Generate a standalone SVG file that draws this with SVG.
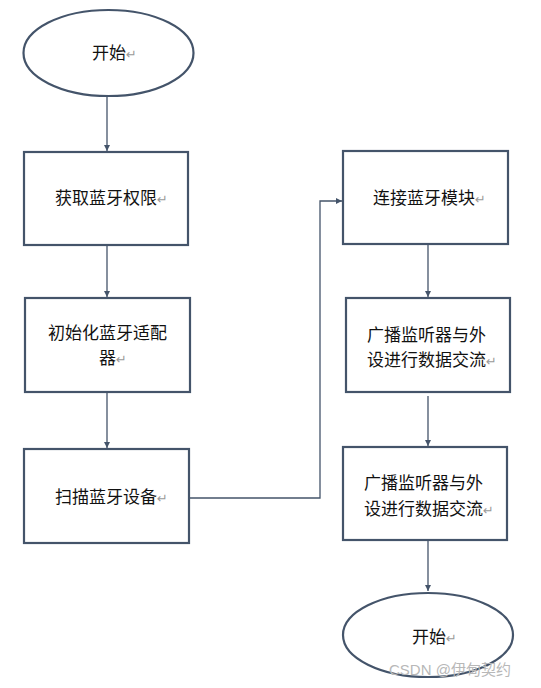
<svg xmlns="http://www.w3.org/2000/svg" width="541" height="688" viewBox="0 0 541 688">
<style>
.shape{fill:#fff;stroke:#44546A;stroke-width:2.2}
.line{fill:none;stroke:#44546A;stroke-width:1.3}
.t{font-family:"Noto Sans CJK SC","Noto Sans",sans-serif;font-size:17px;fill:#111}
.r{fill:#9a9a9a;font-family:"DejaVu Sans",sans-serif;font-size:13px}
.wm{font-family:"Liberation Sans","Noto Sans CJK SC",sans-serif;font-size:15px;fill:#b8b8b8}
</style>
<defs>
<marker id="ah" viewBox="0 0 10 10" refX="10" refY="5" markerWidth="6" markerHeight="7" markerUnits="userSpaceOnUse" orient="auto">
<path d="M0,0 L10,5 L0,10 z" fill="#44546A"/>
</marker>
</defs>
<rect width="541" height="688" fill="#fff"/>
<g id="connectors">
<line class="line" x1="107" y1="96" x2="107" y2="151" marker-end="url(#ah)"/>
<line class="line" x1="107" y1="246" x2="107" y2="297" marker-end="url(#ah)"/>
<line class="line" x1="107" y1="393" x2="107" y2="448" marker-end="url(#ah)"/>
<polyline class="line" points="190,498 320,498 320,201 342,201" marker-end="url(#ah)"/>
<line class="line" x1="428" y1="245" x2="428" y2="297" marker-end="url(#ah)"/>
<line class="line" x1="428" y1="396" x2="428" y2="446" marker-end="url(#ah)"/>
<line class="line" x1="428" y1="541" x2="428" y2="591" marker-end="url(#ah)"/>
</g>
<g id="start">
<ellipse class="shape" cx="108.5" cy="53" rx="85" ry="43"/>
<text class="t" x="92" y="59">开始<tspan class="r">↵</tspan></text>
</g>
<g id="n1">
<rect class="shape" x="24" y="152" width="164" height="93"/>
<text class="t" x="55" y="204">获取蓝牙权限<tspan class="r">↵</tspan></text>
</g>
<g id="n2">
<rect class="shape" x="25" y="298" width="165" height="94"/>
<text class="t" x="48" y="339">初始化蓝牙适配</text>
<text class="t" x="99" y="364">器<tspan class="r">↵</tspan></text>
</g>
<g id="n3">
<rect class="shape" x="24" y="449" width="165" height="94"/>
<text class="t" x="55" y="503">扫描蓝牙设备<tspan class="r">↵</tspan></text>
</g>
<g id="n4">
<rect class="shape" x="343" y="151" width="165" height="93"/>
<text class="t" x="373" y="204">连接蓝牙模块<tspan class="r">↵</tspan></text>
</g>
<g id="n5">
<rect class="shape" x="346" y="298" width="164" height="94"/>
<text class="t" x="367" y="341">广播监听器与外</text>
<text class="t" x="367" y="366">设进行数据交流<tspan class="r">↵</tspan></text>
</g>
<g id="n6">
<rect class="shape" x="343" y="447" width="164" height="93"/>
<text class="t" x="364" y="489">广播监听器与外</text>
<text class="t" x="364" y="515">设进行数据交流<tspan class="r">↵</tspan></text>
</g>
<g id="end">
<ellipse class="shape" cx="428" cy="635" rx="85" ry="42"/>
<text class="t" x="412" y="643">开始<tspan class="r">↵</tspan></text>
</g>
<text class="wm" x="389" y="675">CSDN @伊甸契约</text>
</svg>
